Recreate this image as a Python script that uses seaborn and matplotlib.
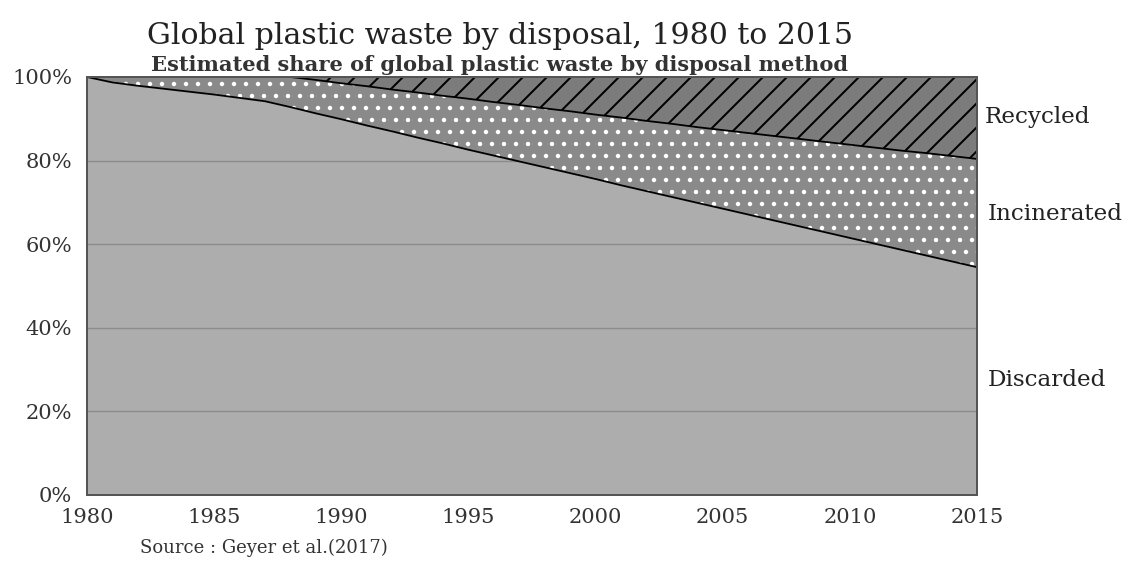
import matplotlib
matplotlib.use("Agg")
import matplotlib.pyplot as plt
import seaborn as sns
import pandas as pd

years = list(range(1980, 2016))
discarded = [100, 98.7, 97.9, 97.2, 96.5, 95.8, 95.0, 94.2, 92.8, 91.3,
             89.9, 88.4, 87.0, 85.5, 84.1, 82.6, 81.2, 79.8, 78.4, 77.0,
             75.6, 74.1, 72.7, 71.3, 69.9, 68.5, 67.1, 65.7, 64.3, 62.9,
             61.5, 60.1, 58.7, 57.3, 55.9, 54.5]
incinerated = [0, 1.3, 2.1, 2.8, 3.5, 4.2, 5.0, 5.8, 7.2, 8.0,
               8.6, 9.4, 10.0, 10.8, 11.4, 12.2, 12.8, 13.5, 14.1, 14.8,
               15.4, 16.2, 16.8, 17.5, 18.1, 18.8, 19.5, 20.2, 20.9, 21.6,
               22.3, 23.0, 23.7, 24.5, 25.2, 25.9]
recycled = [0, 0, 0, 0, 0, 0, 0, 0, 0, 0.7,
            1.5, 2.2, 3.0, 3.7, 4.5, 5.2, 6.0, 6.7, 7.5, 8.2,
            9.0, 9.7, 10.5, 11.2, 12.0, 12.7, 13.4, 14.1, 14.8, 15.5,
            16.2, 16.9, 17.6, 18.2, 18.9, 19.6]
x_ticks = [1980, 1985, 1990, 1995, 2000, 2005, 2010, 2015]
y_ticks = [0, 20, 40, 60, 80, 100]
y_labels = ["0%", "20%", "40%", "60%", "80%", "100%"]
series_names = ["Discarded", "Incinerated", "Recycled"]

df = pd.DataFrame({"year": years, "Discarded": discarded,
                   "Incinerated": incinerated, "Recycled": recycled})
df["top_d"] = df["Discarded"]
df["top_i"] = df["Discarded"] + df["Incinerated"]
df["top_r"] = df["top_i"] + df["Recycled"]

sns.set_theme(style="white")
plt.rcParams["font.family"] = ["DejaVu Serif", "DejaVu Sans"]

DPI = 144
fig = plt.figure(figsize=(1139 / DPI, 563 / DPI), dpi=DPI)
ax = fig.add_axes([87 / 1139, 1 - 495 / 563, (977 - 87) / 1139, (495 - 77) / 563])

# discarded
ax.fill_between(df["year"], 0, df["top_d"], color="#adadad", linewidth=0, zorder=1)
# gridlines above discarded
for yv in y_ticks[1:-1]:
    ax.axhline(yv, color="#8c8c8c", linewidth=0.7, zorder=1.5)
# incinerated with white dots
plt.rcParams["hatch.color"] = "white"
plt.rcParams["hatch.linewidth"] = 1.0
ax.fill_between(df["year"], df["top_d"], df["top_i"], facecolor="#8a8a8a",
                edgecolor="white", hatch="..", linewidth=0, zorder=2)
# recycled with black diagonal hatch
plt.rcParams["hatch.color"] = "black"
plt.rcParams["hatch.linewidth"] = 1.0
ax.fill_between(df["year"], df["top_i"], df["top_r"], facecolor="#7c7c7c",
                edgecolor="black", hatch="//", linewidth=0, zorder=2)

sns.lineplot(data=df, x="year", y="top_d", color="black", linewidth=0.9, ax=ax, zorder=3)
sns.lineplot(data=df, x="year", y="top_i", color="black", linewidth=0.9, ax=ax, zorder=3)

ax.set_xlim(1980, 2015)
ax.set_ylim(0, 100)
ax.set_xticks(x_ticks)
ax.set_xticklabels([str(v) for v in x_ticks])
ax.set_yticks(y_ticks)
ax.set_yticklabels(y_labels)
ax.set_xlabel("")
ax.set_ylabel("")
ax.tick_params(axis="both", length=0, labelsize=10.5, labelcolor="#333333")
ax.tick_params(axis="x", pad=6.5)
ax.tick_params(axis="y", pad=7.5)
for s in ax.spines.values():
    s.set_visible(True)
    s.set_color("#555555")
    s.set_linewidth(1.0)
    s.set_zorder(4)

fig.text(147 / 1139, 1 - 36 / 563, "Global plastic waste by disposal, 1980 to 2015",
         fontsize=15, color="#222222", va="center", ha="left")
fig.text(151 / 1139, 1 - 65 / 563, "Estimated share of global plastic waste by disposal method",
         fontsize=10.5, color="#333333", va="center", ha="left", fontweight="bold")
fig.text(140 / 1139, 1 - 548 / 563, "Source : Geyer et al.(2017)",
         fontsize=9, color="#333333", va="center", ha="left")

label_y = [380, 214, 117]
label_x = [988, 988, 985]
for name, ly, lx in zip(series_names, label_y, label_x):
    fig.text(lx / 1139, 1 - ly / 563, name, fontsize=11.5, color="#222222",
             va="center", ha="left")

fig.savefig("out.png", dpi=DPI)
